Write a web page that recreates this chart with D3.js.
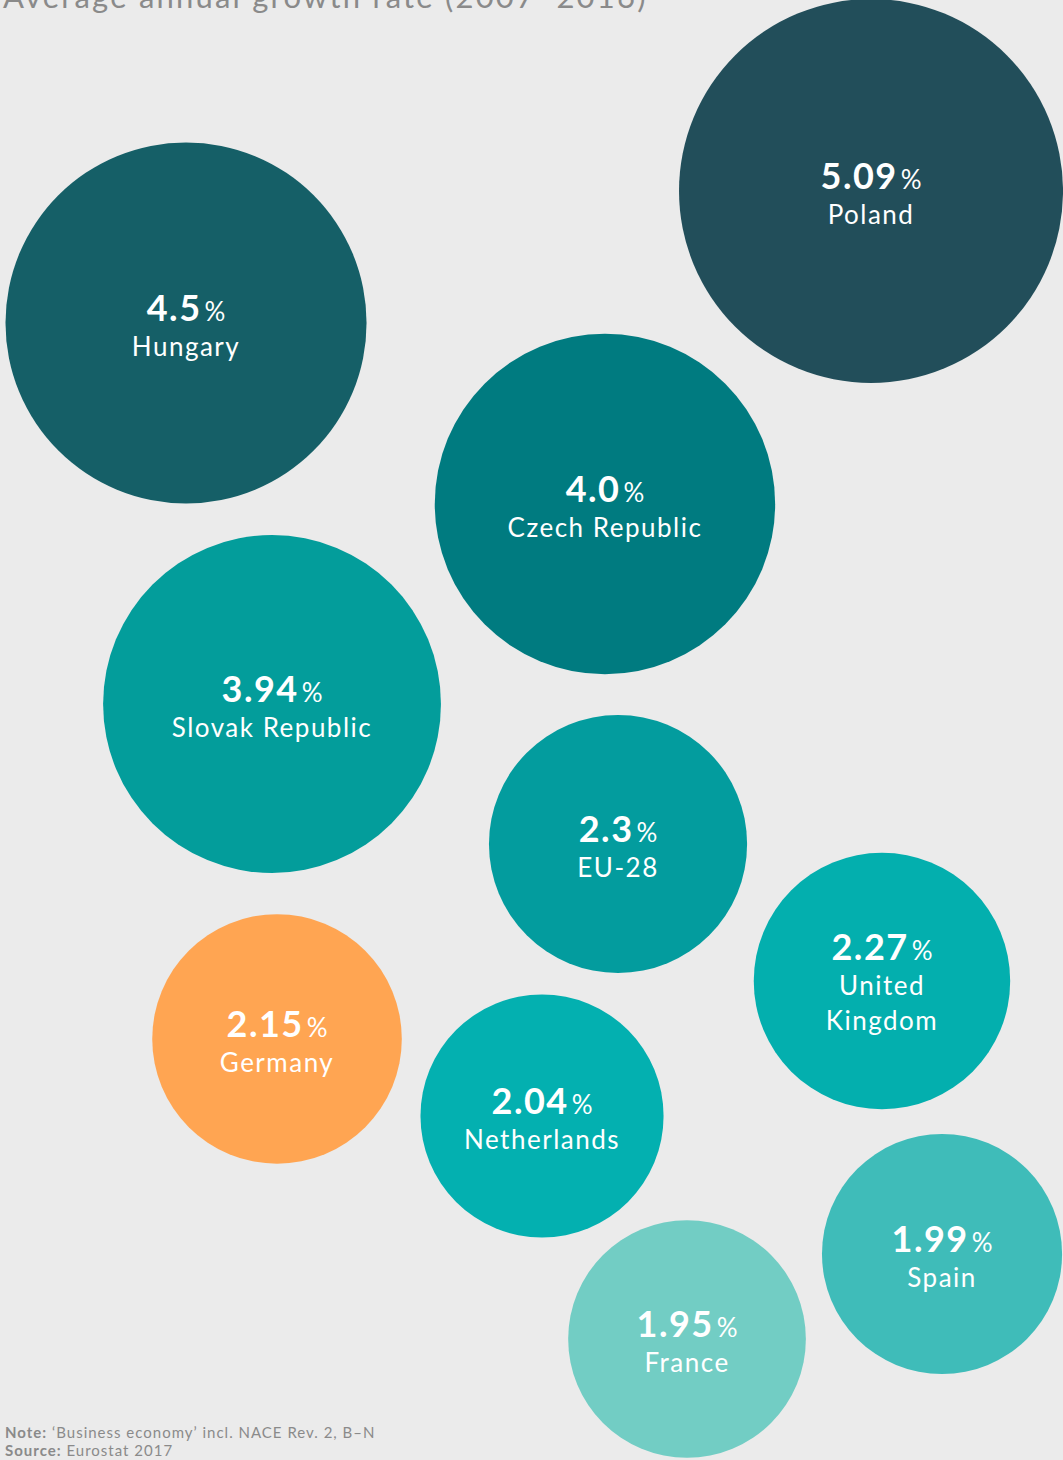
<!DOCTYPE html>
<html>
<head>
<meta charset="utf-8">
<script src="https://cdn.jsdelivr.net/npm/d3@7"></script>
<style>
  html, body { margin: 0; padding: 0; background: #ebebeb; }
  svg { display: block; font-family: Lato, 'Noto Sans', sans-serif; }
</style>
</head>
<body>
<script>
const width = 1063
const height = 1460

// data
const countries = ['Poland', 'Hungary', 'Czech Republic', 'Slovak Republic', 'EU-28',
  'United Kingdom', 'Germany', 'Netherlands', 'Spain', 'France']
const growth = [5.09, 4.5, 4.0, 3.94, 2.3, 2.27, 2.15, 2.04, 1.99, 1.95]
const valueLabels = ['5.09', '4.5', '4.0', '3.94', '2.3', '2.27', '2.15', '2.04', '1.99', '1.95']
const nameLines = [['Poland'], ['Hungary'], ['Czech Republic'], ['Slovak Republic'], ['EU-28'],
  ['United', 'Kingdom'], ['Germany'], ['Netherlands'], ['Spain'], ['France']]

// layout: bubble centres as fractions of the canvas
const posX = [0.8194, 0.175, 0.5691, 0.2559, 0.5814, 0.8297, 0.2606, 0.5099, 0.8862, 0.6463]
const posY = [0.1308, 0.2212, 0.3452, 0.4822, 0.5781, 0.6719, 0.7116, 0.7644, 0.8589, 0.9171]
const colors = ['#224e5a', '#155f67', '#007b80', '#039d9b', '#039c9e',
  '#03afae', '#ffa552', '#03b0b0', '#3fbcb9', '#72cdc4']

const x = d3.scaleLinear().domain([0, 1]).range([0, width])
const y = d3.scaleLinear().domain([0, 1]).range([0, height])
const r = d3.scaleSqrt().domain([0, 5.09]).range([0, 192])

const data = countries.map((c, i) => ({
  name: c, value: growth[i], label: valueLabels[i], lines: nameLines[i],
  x: posX[i], y: posY[i], color: colors[i]
}))

const svg = d3.select('body').append('svg')
  .attr('width', width)
  .attr('height', height)

svg.append('rect').attr('width', width).attr('height', height).attr('fill', '#ebebeb')

svg.append('text')
  .attr('x', 3)
  .attr('y', 8)
  .attr('fill', '#8a8a8a')
  .attr('font-size', 31)
  .attr('letter-spacing', 2.2)
  .text('Average annual growth rate (2007\u20132016)')

const bubble = svg.selectAll('g.bubble')
  .data(data)
  .join('g')
  .attr('class', 'bubble')
  .attr('transform', d => `translate(${x(d.x)},${y(d.y)})`)

bubble.append('circle')
  .attr('r', d => r(d.value))
  .attr('fill', d => d.color)

bubble.each(function (d) {
  const g = d3.select(this)
  const shift = d.lines.length > 1 ? -19 : 0
  const v = g.append('text')
    .attr('text-anchor', 'middle')
    .attr('y', shift - 2)
    .attr('fill', '#fff')
  v.append('tspan')
    .attr('font-size', 36)
    .attr('font-weight', 700)
    .attr('letter-spacing', 1.5)
    .text(d.label)
  v.append('tspan')
    .attr('dx', 3)
    .attr('font-size', 26)
    .attr('font-weight', 400)
    .text('%')
  d.lines.forEach((line, i) => {
    g.append('text')
      .attr('text-anchor', 'middle')
      .attr('y', shift + 33 + i * 35)
      .attr('fill', '#fff')
      .attr('font-size', 26)
      .attr('letter-spacing', 1.5)
      .text(line)
  })
})

const foot = svg.append('text')
  .attr('x', 5)
  .attr('font-size', 15)
  .attr('letter-spacing', 1)
  .attr('fill', '#8a8a8a')
foot.append('tspan').attr('x', 5).attr('y', 1438).attr('font-weight', 700).text('Note:')
foot.append('tspan').text(' \u2018Business economy\u2019 incl. NACE Rev. 2, B\u2013N')
foot.append('tspan').attr('x', 5).attr('y', 1456).attr('font-weight', 700).text('Source:')
foot.append('tspan').text(' Eurostat 2017')
</script>
</body>
</html>
